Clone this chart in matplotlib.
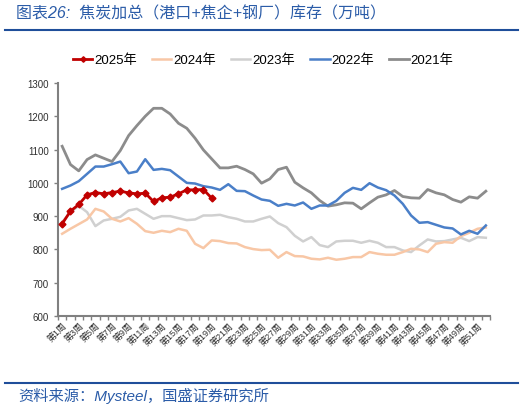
import matplotlib
matplotlib.use('Agg')
import matplotlib.pyplot as plt
import numpy as np

plt.rcParams['font.family'] = ['Liberation Sans', 'Noto Sans CJK SC', 'DejaVu Sans']
plt.rcParams['axes.unicode_minus'] = False

# weekly inventory, 10k tonnes
weeks = [f'第{i}周' for i in range(1, 53)]

y2025 = [877, 915, 935, 964, 971, 967, 971, 975, 970, 967, 969, 944, 955, 957,
         967, 979, 979, 980, 954]

y2024 = [847, 862, 876, 890, 922, 914, 892, 884, 894, 877, 855, 850, 856, 852,
         862, 856, 817, 804, 827, 825, 819, 818, 807, 801, 798, 799, 775, 792,
         780, 779, 772, 770, 775, 769, 772, 777, 777, 792, 787, 784, 784, 792,
         802, 800, 792, 817, 822, 820, 840, 850, 862, 866]

y2023 = [882, 912, 931, 912, 870, 887, 892, 898, 917, 922, 907, 892, 900, 900,
         894, 888, 890, 902, 902, 904, 897, 892, 884, 884, 892, 899, 879, 867,
         841, 824, 837, 813, 807, 824, 826, 826, 820, 826, 820, 807, 807, 797,
         792, 812, 830, 824, 825, 830, 835, 825, 837, 835]

y2022 = [982, 992, 1005, 1027, 1049, 1049, 1056, 1064, 1029, 1034, 1071, 1039,
         1042, 1038, 1019, 1000, 998, 990, 986, 979, 996, 976, 975, 962, 950,
         946, 931, 937, 932, 941, 922, 932, 932, 946, 970, 985, 979, 999, 986,
         978, 962, 937, 902, 880, 882, 874, 866, 863, 845, 856, 847, 872]

y2021 = [1110, 1055, 1036, 1070, 1084, 1074, 1064, 1097, 1142, 1172, 1200, 1224,
         1224, 1207, 1179, 1164, 1134, 1099, 1072, 1045, 1045, 1050, 1040, 1027,
         999, 1012, 1040, 1047, 1002, 985, 970, 947, 930, 934, 940, 939, 922,
         940, 957, 964, 977, 959, 955, 954, 980, 970, 964, 950, 942, 958, 954,
         975]

fig = plt.figure(figsize=(5.26, 4.10), dpi=100)
ax = fig.add_axes([58 / 526, 1 - 317 / 410, 432 / 526, 233 / 410])

x = np.arange(len(weeks))
ax.plot(x[:len(y2021)], y2021, color='#8C8C8C', lw=2.0, label='2021年', zorder=2)
ax.plot(x[:len(y2022)], y2022, color='#4A7FC8', lw=1.8, label='2022年', zorder=3)
ax.plot(x[:len(y2023)], y2023, color='#D0D0D0', lw=1.8, label='2023年', zorder=2)
ax.plot(x[:len(y2024)], y2024, color='#F8C7A6', lw=1.8, label='2024年', zorder=2)
ax.plot(x[:len(y2025)], y2025, color='#C00000', lw=2.0, marker='D', ms=3.5,
        label='2025年', zorder=5)

ax.set_xlim(-0.5, len(weeks) - 0.5)
ax.set_ylim(600, 1300)
ax.set_yticks(range(600, 1301, 100))
ax.set_xticks(x[::2])
ax.set_xticklabels(weeks[::2], rotation=45, ha='right', rotation_mode='anchor',
                   fontsize=6.5, color='#303030')
ax.set_xticks(np.arange(-0.5, len(weeks)), minor=True)
ax.tick_params(axis='x', which='major', length=0, pad=3)
ax.tick_params(axis='x', which='minor', length=3, width=1, color='#808080',
               direction='out')
ax.tick_params(axis='y', length=3, width=1, color='#808080', labelsize=7,
               labelcolor='#303030')

for s in ['top', 'right']:
    ax.spines[s].set_visible(False)
for s in ['left', 'bottom']:
    ax.spines[s].set_color('#808080')
    ax.spines[s].set_linewidth(1.5)

handles, labels = ax.get_legend_handles_labels()
order = [4, 3, 2, 1, 0]
fig.legend([handles[i] for i in order], [labels[i] for i in order],
           loc='center', bbox_to_anchor=(263 / 526, 1 - 61 / 410), ncol=5,
           frameon=False, fontsize=9.5, handlelength=1.5, handletextpad=0.15,
           columnspacing=1.1, markerscale=0.8)

# header and footer
title_color = '#2B5CA8'
fig.text(16 / 526, 1 - 14 / 410, '图表26:  焦炭加总（港口+焦企+钢厂）库存（万吨）',
         fontsize=11.5, color=title_color, style='italic', va='center', ha='left')
fig.add_artist(plt.Line2D([5 / 526, 518 / 526], [1 - 31 / 410, 1 - 31 / 410],
                          color='#1F4E9A', lw=1.5))
fig.add_artist(plt.Line2D([5 / 526, 518 / 526], [1 - 384 / 410, 1 - 384 / 410],
                          color='#1F4E9A', lw=1.5))
fig.text(18 / 526, 1 - 396 / 410, '资料来源：Mysteel，国盛证券研究所',
         fontsize=11, color=title_color, style='italic', va='center', ha='left')

fig.savefig('out.png', dpi=100, facecolor='white')
